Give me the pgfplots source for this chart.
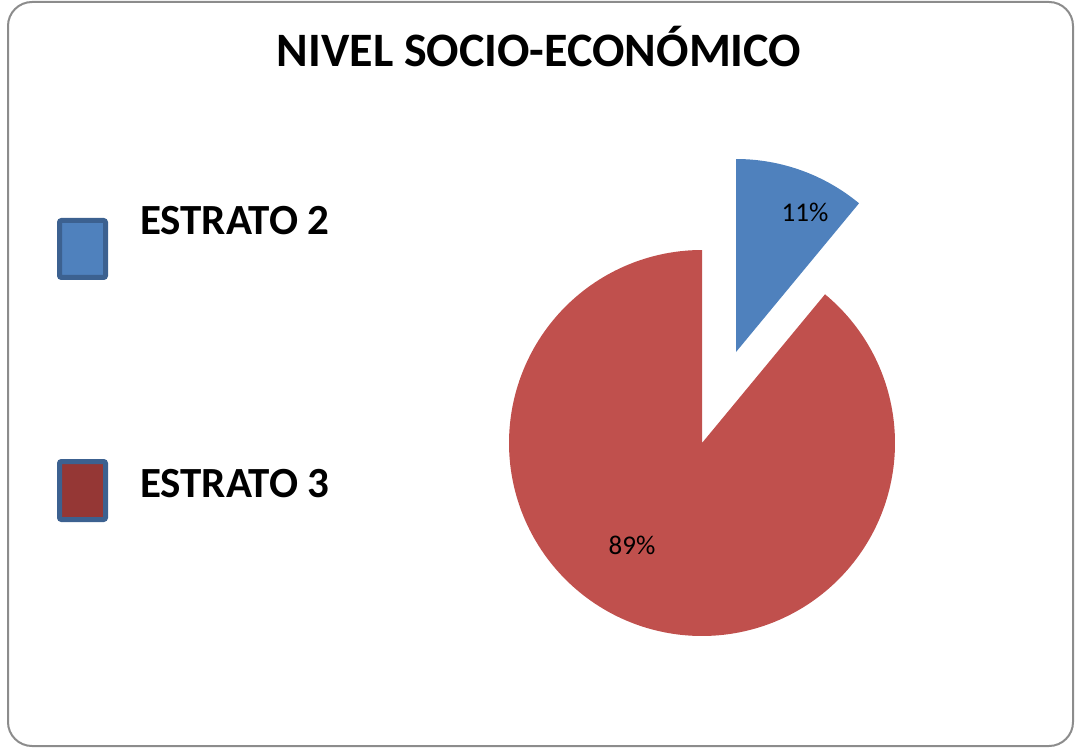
\documentclass[border=0pt]{standalone}
\usepackage{fontspec}
\setmainfont{Carlito}
\usepackage{pgfplots}
\pgfplotsset{compat=1.18}
\definecolor{estA}{HTML}{4F81BD}
\definecolor{estB}{HTML}{C0504D}
\definecolor{estBleg}{HTML}{953735}
\definecolor{legBorder}{HTML}{3C6190}
\definecolor{frameGray}{HTML}{8C8C8C}
% shares in percent
\newcommand\pA{11}
\newcommand\pB{89}
% slice angles, clockwise from 12 o'clock
\pgfmathsetmacro\aStart{90}
\pgfmathsetmacro\aMid{90-3.6*\pA}
\pgfmathsetmacro\aEnd{90-3.6*(\pA+\pB)}

\begin{document}
\begin{tikzpicture}
\begin{axis}[
    scale only axis,
    width=1075pt, height=748pt,
    xmin=0, xmax=1075, ymin=0, ymax=748,
    hide axis, clip=false,
]
\path (axis cs:0,0) rectangle (axis cs:1075,748);
\draw[frameGray, line width=2pt, rounded corners=24pt] (axis cs:8,2) rectangle (axis cs:1073,746);

% ESTRATO 2 (exploded)
\addplot[draw=none, fill=estA, domain=\aMid:\aStart, samples=60, variable=\t]
    ({736+193*cos(\t)}, {396+193*sin(\t)}) -- (axis cs:736,396) -- cycle;
% ESTRATO 3
\addplot[draw=none, fill=estB, domain=\aEnd:\aMid, samples=240, variable=\t]
    ({702+193*cos(\t)}, {305+193*sin(\t)}) -- (axis cs:702,305) -- cycle;

\node[anchor=base, font=\fontsize{27}{32}\selectfont] at (axis cs:805,526) {\pA\%};
\node[anchor=base, font=\fontsize{27}{32}\selectfont] at (axis cs:632,194) {\pB\%};

\node[anchor=base, font=\fontsize{48}{54}\selectfont\bfseries] at (axis cs:539,681) {NIVEL SOCIO-ECONÓMICO};

% legend
\draw[legBorder, line width=5pt, fill=estA, rounded corners=2pt] (axis cs:59.5,470.5) rectangle (axis cs:105.5,527.5);
\draw[legBorder, line width=5pt, fill=estBleg, rounded corners=2pt] (axis cs:59.5,228.5) rectangle (axis cs:105.5,286.5);
\node[anchor=base west, inner sep=0pt, font=\fontsize{43}{48}\selectfont\bfseries] at (axis cs:140,513) {ESTRATO 2};
\node[anchor=base west, inner sep=0pt, font=\fontsize{43}{48}\selectfont\bfseries] at (axis cs:140,251) {ESTRATO 3};
\end{axis}
\end{tikzpicture}
\end{document}
